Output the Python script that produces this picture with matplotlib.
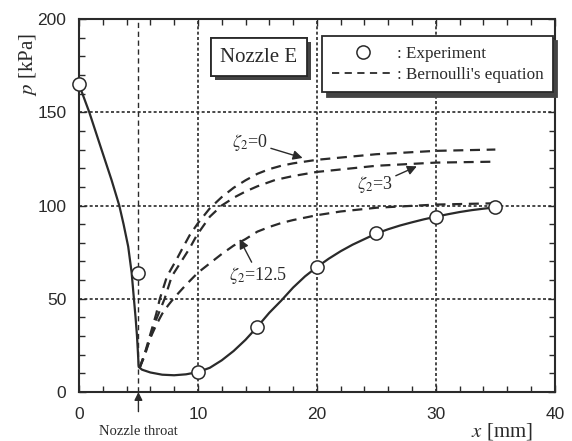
import matplotlib
matplotlib.use("Agg")
import matplotlib.pyplot as plt
import matplotlib.patheffects as pe
from matplotlib.lines import Line2D
from matplotlib.ticker import MultipleLocator

plt.rcParams["font.family"] = ["Liberation Serif", "DejaVu Serif"]
plt.rcParams["mathtext.fontset"] = "stix"

# Measured wall pressure along the nozzle
exp_x = [0, 5, 10, 15, 20, 25, 30, 35]
exp_p = [165, 64, 11, 35, 67, 85, 94, 99]

# Smoothed trend through the measurements
trend_x = [0, 0.87, 1.82, 2.74, 3.39, 3.75, 4.14, 4.43, 4.62, 4.76, 4.88,
           4.96, 5.02, 5.3, 6.0, 7.0, 8.0, 9.0, 10.0, 11.0, 12.0, 13.0,
           14.0, 15.0, 16.0, 17.0, 18.0, 19.0, 20.0, 21.0, 22.0, 23.0,
           24.0, 25.0, 26.0, 27.0, 28.0, 29.0, 30.0, 31.0, 32.0, 33.0,
           34.0, 35.0]
trend_p = [165, 150, 131.5, 113.7, 100, 90, 78, 64, 50, 40, 30,
           21, 13.5, 12, 10.5, 9.3, 9.0, 9.5, 10.7, 13, 17, 22,
           28, 35, 42.5, 49, 56, 62, 67, 71.5, 75.5, 79,
           82, 85, 87.3, 89.3, 91, 92.6, 94, 95.3, 96.5, 97.5,
           98.3, 99]

# Bernoulli predictions for different loss coefficients
zeta0_x = [5.1, 5.5, 6.0, 6.5, 6.8, 7.4, 8.2, 8.7, 9.3, 10.0, 11.0, 12.0,
           13.0, 14.0, 15.0, 16.0, 17.0, 18.0, 20.0, 25.0, 30.0, 35.0]
zeta0_p = [13, 20, 31, 42, 50, 62, 71, 77, 84, 90.5, 98.5, 104.5,
           109.5, 113.5, 117, 119.5, 121.3, 122.6, 124.5, 127.5, 129.3, 130]

zeta3_x = [5.1, 5.5, 6.0, 6.5, 7.2, 7.8, 8.7, 9.3, 9.9, 11.0, 12.0, 13.1,
           14.0, 15.0, 16.5, 18.0, 20.0, 25.0, 30.0, 35.0]
zeta3_p = [13, 19, 29, 39, 50, 62, 71, 77, 84, 94, 100, 104.5,
           107.5, 110.3, 113.7, 115.8, 118, 121.3, 123, 123.5]

zeta12_x = [5.1, 5.5, 6.0, 6.5, 7.0, 7.5, 8.0, 9.0, 10.0, 11.0, 12.0, 13.0,
            14.0, 15.0, 16.0, 17.0, 18.0, 20.0, 22.0, 25.0, 30.0, 35.0]
zeta12_p = [13, 20, 29, 36, 42, 46.5, 50.5, 57.5, 64, 69, 74, 78.5,
            82, 86, 88.5, 90.6, 92.2, 94.8, 96.8, 98.8, 100.5, 101.2]

throat_x = 5

ink = "#2a2a2a"

fig = plt.figure(figsize=(5.72, 4.41), dpi=100)
ax = fig.add_axes([0.138, 0.111, 0.832, 0.846])

ax.set_xlim(0, 40)
ax.set_ylim(0, 200)

ax.xaxis.set_major_locator(MultipleLocator(10))
ax.xaxis.set_minor_locator(MultipleLocator(2))
ax.yaxis.set_major_locator(MultipleLocator(50))
ax.yaxis.set_minor_locator(MultipleLocator(10))
ax.tick_params(which="both", direction="in", top=True, right=True,
               color=ink, width=1.0)
ax.tick_params(which="major", length=5, labelsize=12.5, pad=9)
ax.tick_params(which="minor", length=4)
ax.tick_params(axis="x", pad=11)
for lab in ax.get_xticklabels() + ax.get_yticklabels():
    lab.set_family(["Liberation Sans", "DejaVu Sans"])
    lab.set_color(ink)

for s in ax.spines.values():
    s.set_linewidth(1.5)
    s.set_color(ink)

ax.grid(which="major", linestyle=(0, (1.8, 1.4)), linewidth=1.2, color=ink)
ax.axvline(throat_x, linestyle=(0, (3.8, 2.6)), linewidth=1.0, color=ink,
           zorder=1.5)

dash = (0, (4.5, 3))
for xs, ys in ((zeta0_x, zeta0_p), (zeta3_x, zeta3_p), (zeta12_x, zeta12_p)):
    ax.plot(xs, ys, linestyle=dash, color=ink, linewidth=1.6, zorder=3)

ax.plot(trend_x, trend_p, color=ink, linewidth=1.6, zorder=3)
ax.plot(exp_x, exp_p, linestyle="none", marker="o", markersize=9.5,
        markerfacecolor="white", markeredgecolor=ink, markeredgewidth=1.1,
        zorder=4, clip_on=False)

# Curve labels with arrows
arrow = dict(arrowstyle="-|>", color=ink, lw=1.0, mutation_scale=14,
             shrinkA=0, shrinkB=0)
ax.annotate(r"$\zeta_2$=0", xy=(18.8, 125.5), xytext=(14.4, 134),
            fontsize=13, ha="center", va="center", color=ink,
            arrowprops=arrow, zorder=5)
ax.annotate(r"$\zeta_2$=3", xy=(28.4, 121), xytext=(24.9, 111),
            fontsize=13, ha="center", va="center", color=ink,
            arrowprops=arrow, zorder=5)
ax.annotate(r"$\zeta_2$=12.5", xy=(13.5, 82), xytext=(15.1, 62.5),
            fontsize=13, ha="center", va="center", color=ink,
            arrowprops=arrow, zorder=5)

# Title box with drop shadow
t = ax.text(15.1, 179.5, "Nozzle E", fontsize=15, ha="center", va="center",
            color=ink, zorder=6,
            bbox=dict(boxstyle="square,pad=0.45", facecolor="white",
                      edgecolor=ink, linewidth=1.3))
t.get_bbox_patch().set_path_effects(
    [pe.withSimplePatchShadow(offset=(3, -3), shadow_rgbFace="#444444",
                              alpha=1.0), pe.Normal()])

handles = [
    Line2D([], [], linestyle="none", marker="o", markersize=9.5,
           markerfacecolor="white", markeredgecolor=ink, markeredgewidth=1.1),
    Line2D([], [], linestyle=(0, (4, 3)), color=ink, linewidth=1.3),
]
leg = ax.legend(handles, [": Experiment", ": Bernoulli's equation"],
                loc="upper right", bbox_to_anchor=(0.996, 0.953),
                fontsize=12.3, frameon=True, fancybox=False,
                edgecolor=ink, framealpha=1, handlelength=3.7,
                handletextpad=0.1, labelspacing=0.3, borderpad=0.55,
                borderaxespad=0,
                shadow={"ox": 3, "oy": -3, "color": "#444444", "alpha": 1})
leg.get_frame().set_linewidth(1.3)
leg.set_zorder(6)
for txt in leg.get_texts():
    txt.set_color(ink)

# Axis titles
ax.text(-0.107, 0.877, r"$p$ [kPa]", rotation=90, fontsize=15,
        ha="center", va="center", transform=ax.transAxes, color=ink)
ax.text(0.889, -0.107, r"$x$ [mm]", fontsize=15, ha="center", va="center",
        transform=ax.transAxes, color=ink)

# Throat marker below the axis
ax.annotate("", xy=(throat_x, 0), xycoords="data",
            xytext=(throat_x, -10.5), textcoords="data",
            arrowprops=dict(arrowstyle="-|>", color=ink, lw=1.0,
                            mutation_scale=12, shrinkA=0, shrinkB=0),
            annotation_clip=False)
ax.text(throat_x, -21, "Nozzle throat", fontsize=10.5, ha="center",
        va="center", color=ink, clip_on=False)

fig.savefig("out.png", dpi=100, facecolor="white")
